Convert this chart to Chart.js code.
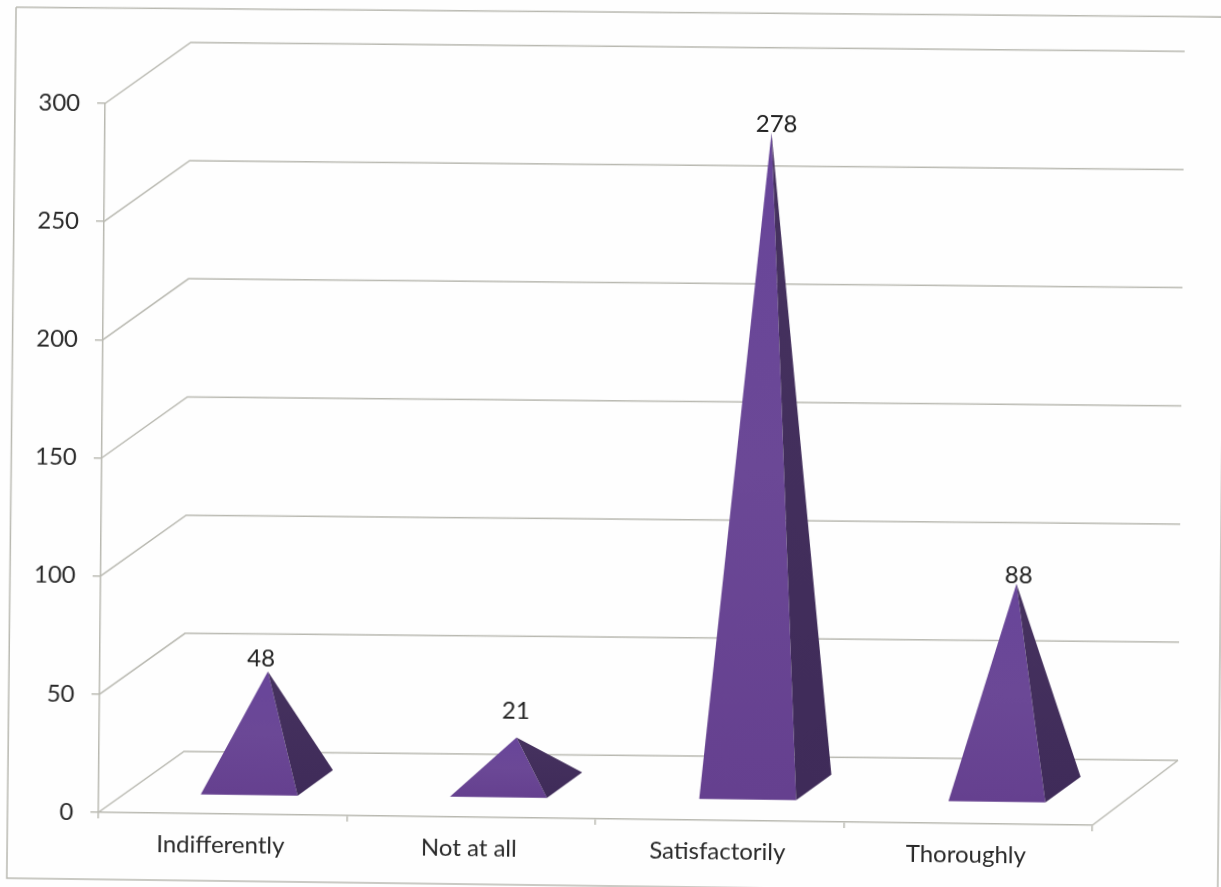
<!DOCTYPE html>
<html>
<head>
<meta charset="utf-8">
<title>Responses</title>
<script src="https://cdn.jsdelivr.net/npm/chart.js@4"></script>
<style>
    html, body { margin: 0; height: 100%; overflow: hidden; background: #fefefe; }
    /* the reference is a slightly crooked scan, so the whole canvas gets skewed */
    #chart {
        position: absolute;
        left: -20px;
        top: -20px;
        transform: matrix(1, 0.013, -0.0095, 1, 0, 0);
        transform-origin: 630.5px 463.5px;
        filter: blur(0.4px);
    }
</style>
</head>
<body>
<canvas id="chart" width="1261" height="927"></canvas>
<script>
// chart data
const categories = ['Indifferently', 'Not at all', 'Satisfactorily', 'Thoroughly'];
const responses = [48, 21, 278, 88];
const yMin = 0;
const yMax = 300;
const yStep = 50;

const lineColor = '#b9b9b1';
const textColor = '#2a2a2a';
const fontFamily = 'Lato, "Open Sans", sans-serif';

// 3d look
const wall = { dx: 85, dy: -62, rise: -4 };
const floorGap = { dx: 26, dy: -18 };
const baseDepth = { dx: 35, dy: -26 };
const drift = { dx: 3, dy: -4 }; // floor runs a bit flatter towards the right
const labelNudge = [[-7, -13], [-1, -27], [5, -8], [2, -8]];

const scan = 20; // canvas overhang past the window on each side

function line(ctx, points) {
    ctx.beginPath();
    points.forEach(function (p, i) {
        if (i === 0) ctx.moveTo(p[0], p[1]);
        else ctx.lineTo(p[0], p[1]);
    });
    ctx.stroke();
}

function face(ctx, points, fill) {
    ctx.beginPath();
    points.forEach(function (p, i) {
        if (i === 0) ctx.moveTo(p[0], p[1]);
        else ctx.lineTo(p[0], p[1]);
    });
    ctx.closePath();
    ctx.fillStyle = fill;
    ctx.fill();
}

const frame3d = {
    id: 'frame3d',
    beforeDatasetsDraw(chart) {
        const ctx = chart.ctx;
        const area = chart.chartArea;
        const y = chart.scales.y;

        ctx.save();
        ctx.strokeStyle = lineColor;
        ctx.lineWidth = 1.5;

        // outer border, the scan's top edge runs flatter than the rest
        line(ctx, [
            [scan + 12, scan + 15],
            [scan + 1222, scan + 9],
            [scan + 1222, scan + 886],
            [scan + 11, scan + 886],
            [scan + 12, scan + 15]
        ]);

        // side wall and back wall lines, one per y tick
        y.ticks.forEach(function (tick) {
            const py = y.getPixelForValue(tick.value);
            line(ctx, [
                [area.left, py],
                [area.left + wall.dx, py + wall.dy],
                [area.right + wall.dx, py + wall.dy + wall.rise]
            ]);
        });

        // floor edge on the right
        line(ctx, [
            [area.right, area.bottom],
            [area.right + wall.dx, area.bottom + wall.dy + wall.rise]
        ]);
        ctx.restore();
    },
    afterDatasetsDraw(chart) {
        const ctx = chart.ctx;
        const area = chart.chartArea;
        const meta = chart.getDatasetMeta(0);

        ctx.save();
        meta.data.forEach(function (bar, i) {
            const t = (bar.x - area.left) / area.width;
            const half = bar.width / 2;
            const fy = bar.base + floorGap.dy + drift.dy * t;
            const fx = bar.x + floorGap.dx + drift.dx * t;
            const frontLeft = [fx - half, fy];
            const frontRight = [fx + half, fy];
            const backRight = [fx + half + baseDepth.dx, fy + baseDepth.dy];
            const tip = [fx + baseDepth.dx / 2, bar.y + floorGap.dy + drift.dy * t + baseDepth.dy / 2 + 2];

            const front = ctx.createLinearGradient(0, tip[1], 0, fy);
            front.addColorStop(0, '#68459a');
            front.addColorStop(0.5, '#6b4896');
            front.addColorStop(1, '#65408f');
            face(ctx, [frontLeft, frontRight, tip], front);

            const side = ctx.createLinearGradient(0, tip[1], 0, fy);
            side.addColorStop(0, '#46325f');
            side.addColorStop(1, '#3f2b59');
            face(ctx, [frontRight, backRight, tip], side);

            // value above the tip
            ctx.fillStyle = '#222222';
            ctx.font = '24px ' + fontFamily;
            ctx.textAlign = 'center';
            ctx.textBaseline = 'middle';
            ctx.fillText(String(responses[i]), tip[0] + labelNudge[i][0], tip[1] + labelNudge[i][1]);
        });
        ctx.restore();
    }
};

new Chart(document.getElementById('chart').getContext('2d'), {
    type: 'bar',
    data: {
        labels: categories,
        datasets: [{
            data: responses,
            backgroundColor: 'transparent',
            borderWidth: 0,
            categoryPercentage: 0.39,
            barPercentage: 1
        }]
    },
    options: {
        responsive: false,
        animation: false,
        layout: { padding: { left: scan, top: scan + 110, right: scan + 125, bottom: 0 } },
        plugins: { legend: { display: false }, tooltip: { enabled: false } },
        scales: {
            x: {
                afterFit(scale) { scale.height = 88; },
                border: { color: lineColor, width: 1.5 },
                grid: { drawOnChartArea: false, color: lineColor, lineWidth: 1.5, tickLength: 6 },
                ticks: { color: textColor, font: { family: fontFamily, size: 24 }, padding: 11, labelOffset: -2, maxRotation: 0 }
            },
            y: {
                min: yMin,
                max: yMax,
                afterFit(scale) { scale.width = 102; },
                border: { color: lineColor, width: 1.5 },
                grid: { drawOnChartArea: false, color: lineColor, lineWidth: 1.5, tickLength: 8 },
                ticks: { stepSize: yStep, color: textColor, font: { family: fontFamily, size: 24 }, padding: 17 }
            }
        }
    },
    plugins: [frame3d]
});
</script>
</body>
</html>
